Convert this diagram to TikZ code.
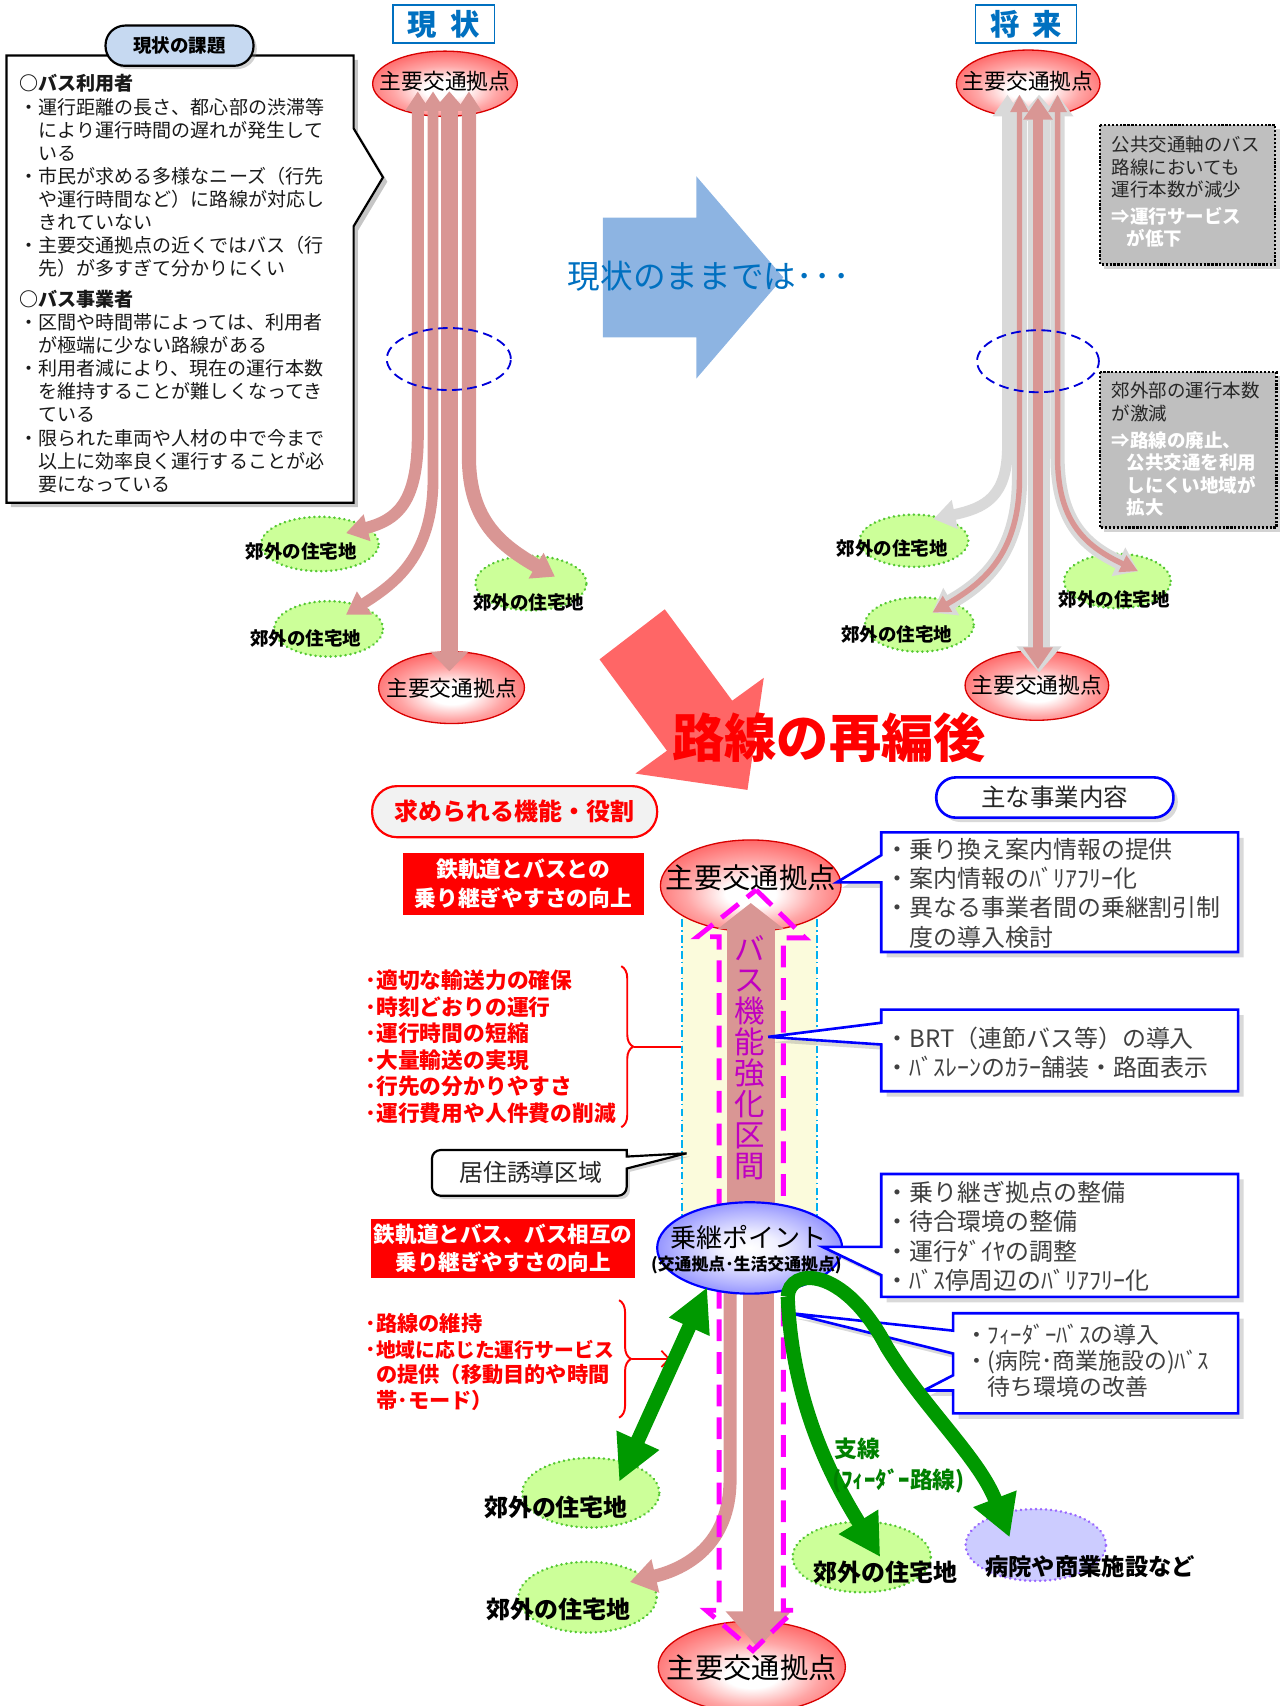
\documentclass[tikz,border=0pt]{standalone}
\usepackage{fontspec}
\setmainfont{Noto Sans CJK JP}
\usetikzlibrary{shapes.geometric,arrows.meta,shadows,decorations.pathreplacing}
\definecolor{routepink}{HTML}{D99694}
\definecolor{routegray}{HTML}{D9D9D9}
\definecolor{subfill}{HTML}{CCFF99}
\definecolor{subline}{HTML}{55C833}
\definecolor{hospfill}{HTML}{CCCCFF}
\definecolor{hospline}{HTML}{9966FF}
\definecolor{bigblue}{HTML}{8DB4E2}
\definecolor{bigred}{HTML}{FF6666}
\definecolor{titleblue}{HTML}{0070C0}
\definecolor{magline}{HTML}{FF00FF}
\definecolor{bandfill}{HTML}{FBFBDC}
\definecolor{cyanline}{HTML}{00B0F0}
\definecolor{arrowgreen}{HTML}{009900}
\definecolor{textgreen}{HTML}{008000}
\definecolor{purpletext}{HTML}{C000C0}
\definecolor{pillblue}{HTML}{C6D9F1}
\definecolor{notegray}{HTML}{BFBFBF}
\definecolor{boxblue}{HTML}{0000FF}
\definecolor{textgray}{HTML}{404040}
\pgfdeclareradialshading{hubshade}{\pgfpoint{0bp}{-5bp}}{color(0bp)=(white); color(7bp)=(white); color(18bp)=(red!35); color(30bp)=(red!62); color(42bp)=(red!85); color(50bp)=(red!92); color(100bp)=(red!92)}
\pgfdeclareradialshading{transshade}{\pgfpoint{0bp}{0bp}}{color(0bp)=(white); color(8bp)=(blue!6); color(20bp)=(blue!30); color(34bp)=(blue!62); color(46bp)=(blue!88); color(50bp)=(blue!92); color(100bp)=(blue!92)}
\newcommand{\fsz}[2]{\fontsize{#1}{#2}\selectfont}
\newcommand{\wbt}[1]{{\bfseries\color{white}#1}}
\newcommand{\tl}{\rule{0pt}{1em}}
\begin{document}
\begin{tikzpicture}[x=1pt,y=-1pt,
  every node/.style={inner sep=0pt, outer sep=0pt},
  hub/.style={ellipse, draw=red!85!black, line width=1.2pt, shade, shading=hubshade},
  suburb/.style={ellipse, fill=subfill, draw=subline, line width=2.6pt, line cap=round, dash pattern=on 0.01pt off 4.6pt},
  hospital/.style={ellipse, fill=hospfill, draw=hospline, line width=2.6pt, line cap=round, dash pattern=on 0.01pt off 4.6pt},
  sublabel/.style={font=\bfseries\fsz{17}{17}},
  biglabel/.style={font=\bfseries\fsz{22}{22}},
  hubtext/.style={font=\fsz{20}{20}},
  titlebox/.style={rectangle, draw=titleblue, line width=1.6pt, fill=white, minimum width=93, minimum height=35, text=titleblue, font=\bfseries\fsz{27}{27}},
  dashell/.style={ellipse, draw=blue!85!black, line width=1.7pt, dash pattern=on 9pt off 5pt},
  notebox/.style={draw=black, line width=2.4pt, dash pattern=on 2pt off 1.6pt, fill=notegray, drop shadow={opacity=0.35, shadow xshift=4pt, shadow yshift=-4pt}},
  bluebox/.style={draw=boxblue, line width=2.4pt, fill=white, line join=miter, drop shadow={opacity=0.3, shadow xshift=5pt, shadow yshift=-5pt}},
  boxtext/.style={anchor=north west, align=left, text=textgray},
  redtext/.style={anchor=north west, align=left, text=red},
  redbox/.style={rectangle, fill=red, text=white, align=center},
  greenarr/.style={draw=arrowgreen, line width=13pt},
  routeline/.style={draw=routepink, line width=#1},
  grayline/.style={draw=routegray, line width=#1},
]
\useasboundingbox (0,0) rectangle (1175.6,1568);

% ================= 現状の課題 =================
\path[draw=black, line width=2pt, fill=white, line join=miter, drop shadow={opacity=0.45, shadow xshift=4pt, shadow yshift=-4pt}] (6,51) -- (325,51) -- (325,118) -- (352,163) -- (325,208) -- (325,462) -- (6,462) -- cycle;
\node[rectangle, rounded corners=18pt, draw=black, line width=2pt, fill=pillblue, minimum width=136, minimum height=37, font=\bfseries\fsz{17}{17}, drop shadow={opacity=0.35, shadow xshift=3pt, shadow yshift=-3pt}] (issuepill) at (165,42) {現状の課題};
\node[anchor=north west, align=left, font=\fsz{17.5}{21.25}, text=black!90] (issuetext) at (18,66.1) {%
\tl\textbf{○バス利用者}\\
・運行距離の長さ、都心部の渋滞等\\
\phantom{・}により運行時間の遅れが発生して\\
\phantom{・}いる\\
・市民が求める多様なニーズ（行先\\
\phantom{・}や運行時間など）に路線が対応し\\
\phantom{・}きれていない\\
・主要交通拠点の近くではバス（行\\
\phantom{・}先）が多すぎて分かりにくい\\[6.75pt]%
\textbf{○バス事業者}\\
・区間や時間帯によっては、利用者\\
\phantom{・}が極端に少ない路線がある\\
・利用者減により、現在の運行本数\\
\phantom{・}を維持することが難しくなってき\\
\phantom{・}ている\\
・限られた車両や人材の中で今まで\\
\phantom{・}以上に効率良く運行することが必\\
\phantom{・}要になっている};

% ================= 現状 =================
\node[titlebox] (nowtitle) at (408,22) {現\hspace{0.45em}状};
\node[hub, minimum width=133, minimum height=60] (nowtop) at (409,77) {};
\node[hub, minimum width=134, minimum height=66] (nowbot) at (415,632) {};
\node[suburb, minimum width=108, minimum height=50] (nows1) at (294,500) {};
\node[suburb, minimum width=100, minimum height=51] (nows2) at (302,578) {};
\node[suburb, minimum width=102, minimum height=50] (nows3) at (488,536) {};
\coordinate (nr1a) at (384,84); \coordinate (nr1b) at (318,490);
\coordinate (nr2a) at (398,84); \coordinate (nr2b) at (318,565);
\coordinate (nr3a) at (413,84); \coordinate (nr3b) at (413,617);
\coordinate (nr4a) at (431,84); \coordinate (nr4b) at (510,530);
\draw[routeline=11, arrows={Triangle[width=22pt,length=18pt]-Triangle[width=24pt,length=20pt]}] (nr1a) -- (384,400) .. controls (384,462) and (365,478) .. (nr1b);
\draw[routeline=10, arrows={Triangle[width=22pt,length=18pt]-Triangle[width=24pt,length=20pt]}] (nr2a) -- (398,440) .. controls (398,512) and (362,537) .. (nr2b);
\draw[routeline=16, arrows={Triangle[width=30pt,length=18pt]-Triangle[width=34pt,length=18pt]}] (nr3a) -- (nr3b);
\draw[routeline=13, arrows={Triangle[width=22pt,length=18pt]-Triangle[width=26pt,length=20pt]}] (nr4a) -- (431,420) .. controls (431,480) and (462,502) .. (nr4b);
\node[dashell, minimum width=114, minimum height=57] (nowring) at (412.5,330) {};
\node[hubtext] (nowtopt) at (409,75) {主要交通拠点};
\node[hubtext] (nowbott) at (415,633) {主要交通拠点};
\node[sublabel] (nows1t) at (277,507) {郊外の住宅地};
\node[sublabel] (nows2t) at (281,587) {郊外の住宅地};
\node[sublabel] (nows3t) at (486,554) {郊外の住宅地};

% ================= big blue arrow =================
\path[fill=bigblue] (554,200) -- (640,200) -- (640,162) -- (720,255) -- (640,348) -- (640,310) -- (554,310) -- cycle;
\node[anchor=west, text=titleblue, font=\fsz{30}{30}] (keep) at (522,254) {現状のままでは･\kern2pt･\kern2pt･};

% ================= 将来 =================
\node[titlebox] (futtitle) at (943,22) {将\hspace{0.45em}来};
\node[hub, minimum width=132, minimum height=62] (futtop) at (945,77) {};
\node[hub, minimum width=132, minimum height=64] (futbot) at (953,630) {};
\node[suburb, minimum width=100, minimum height=48] (futs1) at (840,497) {};
\node[suburb, minimum width=100, minimum height=50] (futs2) at (845,574) {};
\node[suburb, minimum width=98, minimum height=50] (futs3) at (1027,534) {};
\coordinate (fr1a) at (926,87); \coordinate (fr1b) at (858,477);
\coordinate (fr2a) at (937,87); \coordinate (fr2b) at (857,563);
\coordinate (fr3a) at (955,87); \coordinate (fr3b) at (955,618);
\coordinate (fr4a) at (972,87); \coordinate (fr4b) at (1046,525);
\draw[grayline=10, arrows={Triangle[width=26pt,length=20pt]-Triangle[width=26pt,length=20pt]}] (fr1a) -- (926,410) .. controls (926,457) and (905,467) .. (fr1b);
\draw[grayline=14, arrows={Triangle[width=28pt,length=20pt]-Triangle[width=28pt,length=20pt]}] (fr2a) -- (937,440) .. controls (937,512) and (900,538) .. (fr2b);
\draw[grayline=20, arrows={Triangle[width=40pt,length=24pt]-Triangle[width=40pt,length=24pt]}] (fr3a) -- (fr3b);
\draw[grayline=13, arrows={Triangle[width=28pt,length=20pt]-Triangle[width=28pt,length=20pt]}] (fr4a) -- (972,420) .. controls (972,482) and (1000,503) .. (fr4b);
\draw[routeline=5, arrows={Triangle[width=16pt,length=16pt]-Triangle[width=16pt,length=16pt]}] (fr2a) -- (937,440) .. controls (937,512) and (900,538) .. (fr2b);
\draw[routeline=10, arrows={Triangle[width=26pt,length=20pt]-Triangle[width=26pt,length=20pt]}] (954,90) -- (954,615);
\draw[routeline=5, arrows={Triangle[width=16pt,length=16pt]-Triangle[width=16pt,length=16pt]}] (fr4a) -- (972,420) .. controls (972,482) and (1000,503) .. (fr4b);
\node[dashell, minimum width=112, minimum height=57] (futring) at (954,332) {};
\node[hubtext] (futtopt) at (945,75) {主要交通拠点};
\node[hubtext] (futbott) at (953,630) {主要交通拠点};
\node[sublabel] (futs1t) at (820,504) {郊外の住宅地};
\node[sublabel] (futs2t) at (824,583) {郊外の住宅地};
\node[sublabel] (futs3t) at (1024,551) {郊外の住宅地};

% ================= notes =================
\path[notebox] (1011,115) rectangle (1172,243);
\node[anchor=north west, align=left, font=\fsz{17}{20.5}, text=black!85] (note1) at (1022,122.5) {\tl 公共交通軸のバス\\路線においても\\運行本数が減少\\[4pt]%
\wbt{⇒運行サービス}\\\wbt{\hspace{0.8em}が低下}};
\path[notebox] (1011,342) rectangle (1173,485);
\node[anchor=north west, align=left, font=\fsz{17}{20.7}, text=black!85] (note2) at (1022,348.5) {\tl 郊外部の運行本数\\が激減\\[4pt]%
\wbt{⇒路線の廃止、}\\\wbt{\hspace{0.8em}公共交通を利用}\\\wbt{\hspace{0.8em}しにくい地域が}\\\wbt{\hspace{0.8em}拡大}};

% ================= big red arrow =================
\path[fill=bigred] (611,560) -- (673,644) -- (702,623) -- (687,726) -- (584,711) -- (613,690) -- (551,606) -- cycle;
\node[text=red, font=\bfseries\fsz{48}{48}] (reorg) at (762,678) {路線の再編後};

% ================= lower left =================
\node[rectangle, rounded corners=23pt, draw=red, line width=2pt, fill=black!5, minimum width=262, minimum height=47, text=red, font=\bfseries\fsz{22}{22}] (funcpill) at (473,746) {求められる機能・役割};
\node[redbox, minimum width=222, minimum height=57, font=\bfseries\fsz{20}{27}] (redbox1) at (481,812.5) {鉄軌道とバスとの\\乗り継ぎやすさの向上};
\node[redtext, font=\bfseries\fsz{20}{24.4}] (func1) at (336,888.6) {\tl･適切な輸送力の確保\\･時刻どおりの運行\\･運行時間の短縮\\･大量輸送の実現\\･行先の分かりやすさ\\･運行費用や人件費の削減};
\draw[red, line width=1.8pt, decorate, decoration={brace, amplitude=11pt}] (571,888) -- (571,1036);
\coordinate (br1tip) at (583,962);
\coordinate (br1end) at (659,962);
\draw[red, line width=1.6pt, -{Straight Barb[length=7pt,width=15pt]}] (br1tip) -- (br1end);
\node[redbox, minimum width=243, minimum height=55, font=\bfseries\fsz{19.8}{26}] (redbox2) at (462.5,1147.5) {鉄軌道とバス、バス相互の\\乗り継ぎやすさの向上};
\node[redtext, font=\bfseries\fsz{19.5}{23.7}] (func2) at (336,1204.1) {\tl･路線の維持\\･{\fsz{18.2}{23.7}地域に応じた運行サービス}\\\phantom{･}の提供（移動目的や時間\\\phantom{･}帯･モード）};
\draw[red, line width=1.8pt, decorate, decoration={brace, amplitude=11pt}] (569,1195) -- (569,1303);
\coordinate (br2tip) at (581,1249);
\coordinate (br2end) at (616,1249);
\draw[red, line width=1.6pt, -{Straight Barb[length=7pt,width=15pt]}] (br2tip) -- (br2end);

% ================= central corridor =================
\fill[bandfill] (627,835) rectangle (751,1130);
\draw[cyanline, line width=1.6pt, dash pattern=on 7pt off 3pt on 1.5pt off 3pt] (627,845) -- (627,1125);
\draw[cyanline, line width=1.6pt, dash pattern=on 7pt off 3pt on 1.5pt off 3pt] (751,845) -- (751,1125);
\node[suburb, minimum width=126, minimum height=64] (low1) at (543,1372) {};
\node[suburb, minimum width=127, minimum height=65] (low2) at (540,1468) {};
\node[suburb, minimum width=127, minimum height=65] (lowr) at (792,1431) {};
\node[hospital, minimum width=129, minimum height=66] (hosp) at (952,1420) {};
\node[hub, minimum width=166, minimum height=84] (maintop) at (690,814) {};
\node[hub, minimum width=172, minimum height=84] (mainbot) at (691,1532) {};
\coordinate (upbase) at (690,1150); \coordinate (uptip) at (690,830);
\draw[routeline=44, -{Triangle[width=60pt,length=24pt]}] (upbase) -- (uptip);
\coordinate (lowbase) at (697,1160); \coordinate (lowtip) at (697,1515);
\draw[routeline=29, -{Triangle[width=58pt,length=34pt]}] (lowbase) -- (lowtip);
\coordinate (thina) at (671,1185); \coordinate (thinb) at (579,1454);
\draw[routeline=12, -{Triangle[width=30pt,length=24pt]}] (thina) -- (671,1360) .. controls (671,1420) and (630,1442) .. (thinb);
\draw[magline, line width=4.5pt, dash pattern=on 20pt off 10pt] (695,818) -- (740,862) -- (720,862) -- (720,1480) -- (730,1480) -- (692,1517) -- (649,1480) -- (661,1480) -- (661,861) -- (641,861) -- cycle;
\node[anchor=north, align=center, text=purpletext, font=\fsz{28}{28.5}] (bustext) at (689,860) {バ\\ス\\機\\能\\強\\化\\区\\間};
\node[font=\fsz{26}{26}] (maintopt) at (690,807) {主要交通拠点};
\node[font=\fsz{26}{26}] (mainbott) at (691,1533) {主要交通拠点};
\node[ellipse, draw=boxblue, line width=2pt, shade, shading=transshade, minimum width=170, minimum height=84] (transfer) at (689,1147) {};
\node[font=\fsz{24}{24}] (transfert) at (688,1137) {乗継ポイント};
\node[font=\bfseries\fsz{15.5}{15.5}] (transfers) at (686,1163) {(交通拠点･生活交通拠点)};

% residential area callout
\draw[black, line width=2pt, fill=white, drop shadow={opacity=0.35, shadow xshift=3pt, shadow yshift=-3pt}] (397,1078) [rounded corners=8pt] -- (397,1057) [sharp corners] -- (576,1057) -- (576,1063) -- (631,1060) -- (576,1074) [rounded corners=8pt] -- (576,1099) -- (397,1099) -- cycle;
\node[font=\fsz{22}{22}, text=black!85] (resid) at (488,1078) {居住誘導区域};

% box 4 (before green arrows)
\path[bluebox] (876,1207) -- (1138,1207) -- (1138,1299) -- (876,1299) -- (876,1278) -- (849,1278) -- (876,1264) -- (876,1244) -- (727,1207) -- (876,1223) -- cycle;
\node[boxtext, font=\fsz{21}{24}] (box4t) at (887,1214) {\tl・ﾌｨｰﾀﾞｰﾊﾞｽの導入\\・(病院･商業施設の)ﾊﾞｽ\\\phantom{・}待ち環境の改善};

% green arrows
\coordinate (g1a) at (650,1183); \coordinate (g1b) at (569,1362);
\draw[greenarr, arrows={Triangle[width=38pt,length=40pt]-Triangle[width=40pt,length=42pt]}] (g1a) -- (g1b);
\coordinate (g2a) at (724,1192); \coordinate (g2b) at (809,1431); \coordinate (g3b) at (928,1413);
\draw[greenarr, -{Triangle[width=40pt,length=38pt]}] (g2a) .. controls (728,1290) and (765,1360) .. (g2b);
\draw[greenarr, -{Triangle[width=40pt,length=38pt]}] (g2a) .. controls (725,1165) and (775,1162) .. (815,1238) .. controls (850,1295) and (900,1340) .. (g3b);
\node[anchor=west, text=textgreen, font=\bfseries\fsz{21}{21}] (feeder1) at (767,1332) {支線};
\node[anchor=west, text=textgreen, font=\bfseries\fsz{21}{21}] (feeder2) at (765,1361) {(ﾌｨｰﾀﾞｰ路線)};

\node[biglabel] (low1t) at (511,1385) {郊外の住宅地};
\node[biglabel] (low2t) at (513,1479) {郊外の住宅地};
\node[biglabel] (lowrt) at (814,1445) {郊外の住宅地};
\node[font=\bfseries\fsz{21.4}{21.4}] (hospt) at (1002,1440) {病院や商業施設など};

% ================= right blue boxes =================
\node[rectangle, rounded corners=18pt, draw=boxblue, line width=2.4pt, fill=white, minimum width=218, minimum height=37, font=\fsz{22.5}{22.5}, text=black!85, drop shadow={opacity=0.3, shadow xshift=4pt, shadow yshift=-4pt}] (bizpill) at (969.5,733) {主な事業内容};
\path[bluebox] (810,765) -- (1138,765) -- (1138,875) -- (810,875) -- (810,811) -- (769,811) -- (810,786) -- cycle;
\node[boxtext, font=\fsz{22}{26.7}] (box1t) at (814,767.4) {\tl・乗り換え案内情報の提供\\・案内情報のﾊﾞﾘｱﾌﾘｰ化\\・異なる事業者間の乗継割引制\\\phantom{・}度の導入検討};
\path[bluebox] (810,928) -- (1138,928) -- (1138,1003) -- (810,1003) -- (810,960) -- (706,953) -- (810,940) -- cycle;
\node[boxtext, font=\fsz{22}{27}] (box2t) at (814,940.4) {\tl・BRT（連節バス等）の導入\\・ﾊﾞｽﾚｰﾝのｶﾗｰ舗装・路面表示};
\path[bluebox] (810,1079) -- (1138,1079) -- (1138,1192) -- (810,1192) -- (810,1172) -- (756,1146) -- (810,1146) -- cycle;
\node[boxtext, font=\fsz{22}{27}] (box3t) at (814,1082.4) {\tl・乗り継ぎ拠点の整備\\・待合環境の整備\\・運行ﾀﾞｲﾔの調整\\・ﾊﾞｽ停周辺のﾊﾞﾘｱﾌﾘｰ化};
\end{tikzpicture}
\end{document}
